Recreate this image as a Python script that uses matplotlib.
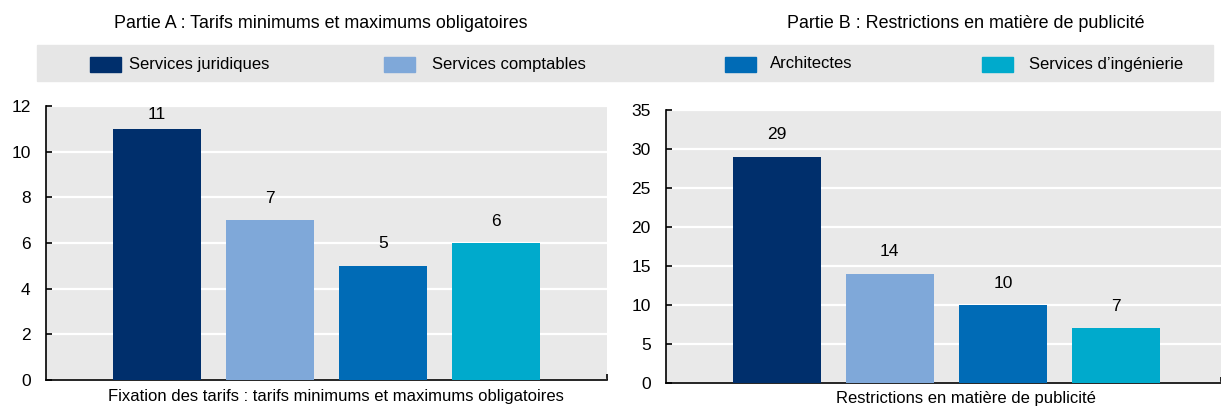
import matplotlib
matplotlib.use("Agg")
import matplotlib.pyplot as plt
from matplotlib.patches import Rectangle

plt.rcParams['font.family'] = ['Liberation Sans Narrow', 'Liberation Sans', 'DejaVu Sans']

series = ["Services juridiques", "Services comptables", "Architectes", "Services d\u2019ingénierie"]
colors = ["#002F6C", "#7FA8D9", "#006BB6", "#00AACC"]

tarifs = [11, 7, 5, 6]
publicite = [29, 14, 10, 7]

titles = ["Partie A : Tarifs minimums et maximums obligatoires",
          "Partie B : Restrictions en matière de publicité"]
xlabels = ["Fixation des tarifs : tarifs minimums et maximums obligatoires",
           "Restrictions en matière de publicité"]

W, H = 1221, 408
fig = plt.figure(figsize=(W / 100, H / 100), dpi=100)
bg = "#E9E9E9"


def px(x0, y0, x1, y1):
    # pixel box (top-left origin) -> figure fraction rect
    return [x0 / W, 1 - y1 / H, (x1 - x0) / W, (y1 - y0) / H]


axA = fig.add_axes(px(46, 106, 607, 380))
axB = fig.add_axes(px(666, 110, 1221, 383))

panels = [
    (axA, tarifs, 12, 2, (-0.98, 3.98), 274),
    (axB, publicite, 35, 5, (-0.98, 3.93), 273),
]
for ax, vals, ymax, step, xl, hpx in panels:
    ppu = hpx / ymax  # pixels per unit
    ax.set_facecolor(bg)
    xs = range(len(vals))
    bars = ax.bar(xs, vals, width=0.78, color=colors, zorder=3)
    for b, v in zip(bars, vals):
        y = min(v + 22 / ppu, ymax - 8 / ppu)
        ax.text(b.get_x() + b.get_width() / 2, y, str(v),
                ha="center", va="center", fontsize=12.5)
    ax.set_ylim(0, ymax)
    ax.set_yticks(range(0, ymax + 1, step))
    ax.set_xlim(*xl)
    ax.set_xticks([xl[1]])
    ax.set_xticklabels([""])
    ax.tick_params(axis="x", direction="in", length=4, width=1.2)
    ax.tick_params(axis="y", direction="in", length=4, width=1.2,
                   labelsize=12.5, pad=11)
    ax.grid(axis="y", color="white", linewidth=1.6, zorder=0)
    ax.set_axisbelow(True)
    for s in ["top", "right"]:
        ax.spines[s].set_visible(False)
    for s in ["left", "bottom"]:
        ax.spines[s].set_linewidth(1.2)

# axis labels under each panel
fig.text(336 / W, 1 - 397 / H, xlabels[0], ha="center", va="center", fontsize=12)
fig.text(966 / W, 1 - 399 / H, xlabels[1], ha="center", va="center", fontsize=12)

# panel titles
fig.text(321 / W, 1 - 24 / H, titles[0], ha="center", va="center", fontsize=12.9)
fig.text(966 / W, 1 - 24 / H, titles[1], ha="center", va="center", fontsize=12.9)

# legend band
fig.patches.append(Rectangle((37 / W, 1 - 81 / H), (1213 - 37) / W, 36 / H,
                             transform=fig.transFigure, color="#E6E6E6", zorder=0))
patch_x = [90, 384, 725, 982]
text_x = [129, 432, 770, 1029]
for name, c, pxp, tx in zip(series, colors, patch_x, text_x):
    fig.patches.append(Rectangle((pxp / W, 1 - 72 / H), 31 / W, 15 / H,
                                 transform=fig.transFigure, color=c, zorder=1))
    fig.text(tx / W, 1 - 64 / H, name, ha="left", va="center", fontsize=12)

fig.savefig("out.png", dpi=100)
